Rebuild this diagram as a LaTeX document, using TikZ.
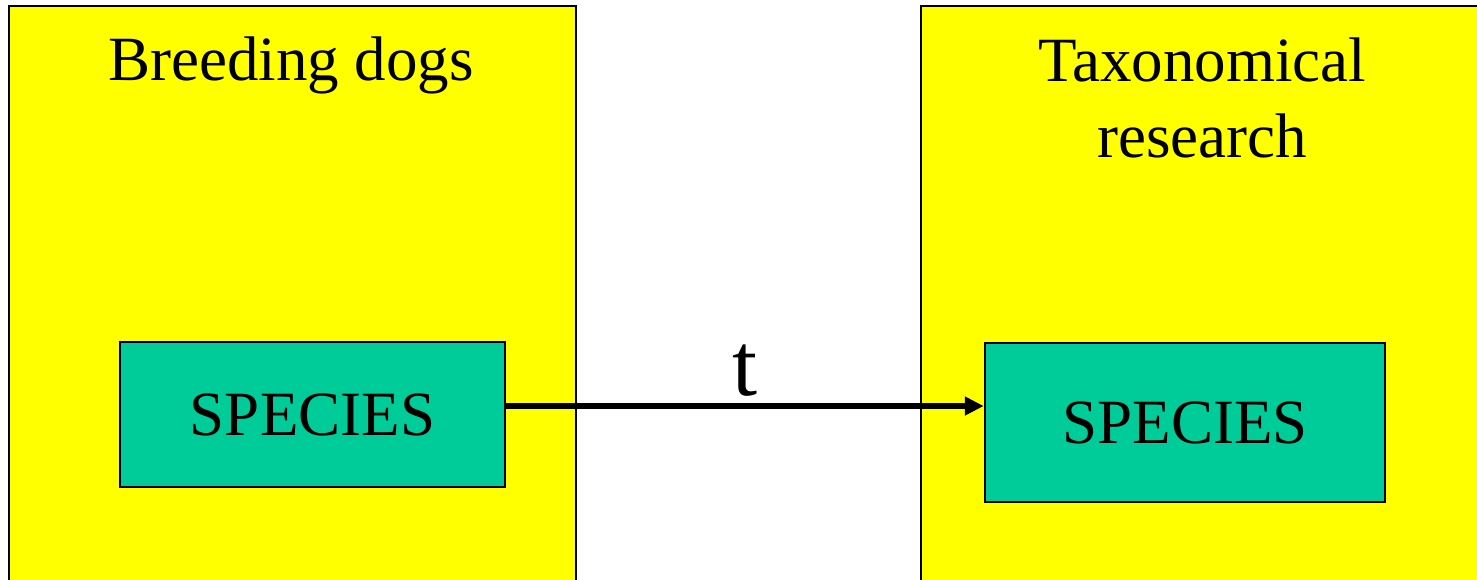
\documentclass[tikz,border=0pt]{standalone}
\usepackage{fontspec}
\setmainfont{Liberation Serif}
\usetikzlibrary{arrows.meta}

\definecolor{paneyellow}{HTML}{FFFF00}
\definecolor{speciesgreen}{HTML}{00CC99}

\tikzset{
  pane/.style={fill=paneyellow, draw=black, line width=2.5pt},
  speciesbox/.style={fill=speciesgreen, draw=black, line width=2.5pt,
    inner sep=0pt, font=\fontsize{63}{75}\selectfont},
  panetitle/.style={inner sep=0pt, align=center, font=\fontsize{63}{76}\selectfont},
  maparrow/.style={line width=5.5pt, -{Triangle[length=19pt,width=18pt]}}
}

\begin{document}
\begin{tikzpicture}[x=1pt, y=-1pt]
  \clip (0,0) rectangle (1477,579);
  \fill[white] (0,0) rectangle (1477,579);
  % the two domains
  \draw[pane] (9,6) rectangle (576,640);
  \draw[pane] (921,6) rectangle (1520,640);
  \node[panetitle, anchor=base] (dogs) at (291,80) {Breeding dogs};
  \node[panetitle, anchor=north] (taxo) at (1202,38) {Taxonomical\\research};
  % species in each domain
  \node[speciesbox, minimum width=385pt, minimum height=145pt] (sp1) at (312.5,414.5) {SPECIES};
  \node[speciesbox, minimum width=400pt, minimum height=159pt] (sp2) at (1185,422.5) {SPECIES};
  % the translation between them
  \draw[maparrow] ([yshift=8.5pt]sp1.east) -- ([yshift=8.5pt]sp1.east -| sp2.west)
    node[midway, above=7pt, inner sep=0pt, font=\fontsize{90}{100}\selectfont] (t) {t};
\end{tikzpicture}
\end{document}
